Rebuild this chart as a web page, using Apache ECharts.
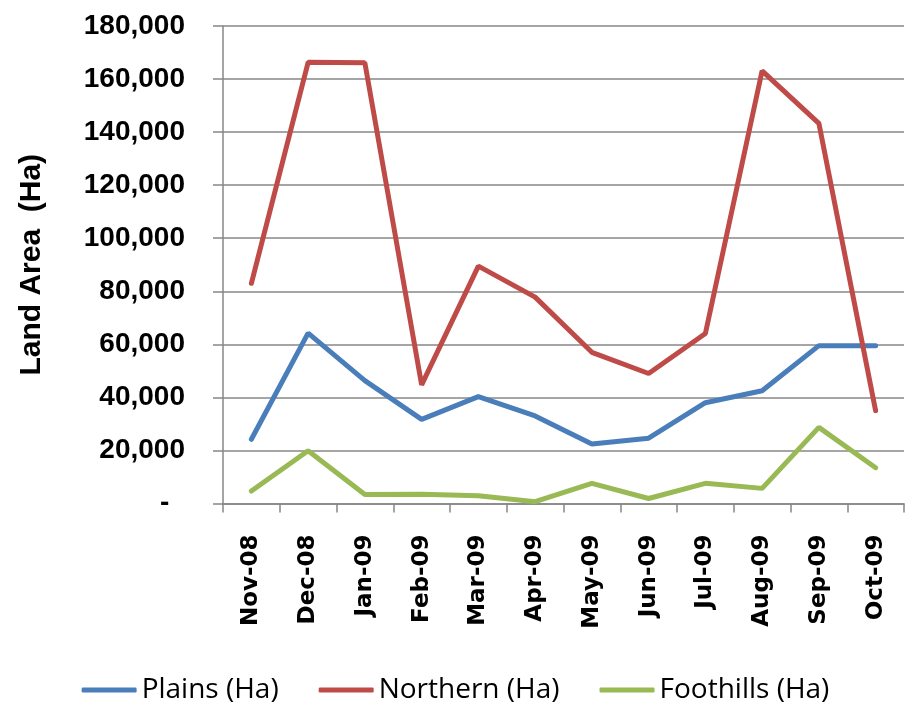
<!DOCTYPE html>
<html>
<head>
<meta charset="utf-8">
<script src="https://cdn.jsdelivr.net/npm/echarts@6/dist/echarts.min.js"></script>
<style>html,body{margin:0;padding:0;background:#fff}#c{width:911px;height:709px}</style>
</head>
<body>
<div id="c"></div>
<script>
var categories = ['Nov-08','Dec-08','Jan-09','Feb-09','Mar-09','Apr-09','May-09','Jun-09','Jul-09','Aug-09','Sep-09','Oct-09'];
var plains = [24200, 64200, 46300, 31700, 40300, 33000, 22400, 24600, 38000, 42500, 59500, 59500];
var northern = [83000, 166300, 166100, 44700, 89500, 77800, 57000, 49000, 64100, 163100, 143300, 35000];
var foothills = [4700, 19900, 3400, 3500, 2900, 700, 7600, 1900, 7600, 5700, 28700, 13500];
var seriesNames = ['Plains (Ha)', 'Northern (Ha)', 'Foothills (Ha)'];
var colors = ['#4A7EBB', '#BE4B48', '#98B954'];

function fmt(v) {
  if (v === 0) return '-  ';
  return String(v).replace(/\B(?=(\d{3})+(?!\d))/g, ',');
}

var chart = echarts.init(document.getElementById('c'));
var mk = function (name, data, color) {
  return {
    name: name, type: 'line', data: data, symbol: 'none',
    lineStyle: { width: 5, color: color, cap: 'round' },
    itemStyle: { color: color },
    animation: false
  };
};
chart.setOption({
  animation: false,
  color: colors,
  grid: { left: 223, right: 7, top: 26, bottom: 205.5, containLabel: false },
  legend: {
    bottom: 0,
    left: 'center',
    itemWidth: 55, itemHeight: 5, itemGap: 40,
    icon: 'roundRect',
    textStyle: { fontFamily: 'Open Sans', fontSize: 28, color: '#000' },
    data: seriesNames
  },
  xAxis: {
    type: 'category',
    data: categories,
    boundaryGap: true,
    axisLine: { lineStyle: { color: '#878787', width: 1.5 } },
    axisTick: { show: true, length: 9, lineStyle: { color: '#878787', width: 1.5 } },
    axisLabel: { rotate: 90, margin: 31, interval: 0, color: '#000', fontFamily: 'DejaVu Sans', fontWeight: 'bold', fontSize: 23 }
  },
  yAxis: {
    type: 'value',
    min: 0, max: 180000, interval: 20000,
    name: 'Land Area  (Ha)',
    nameLocation: 'middle',
    nameGap: 176,
    nameTextStyle: { fontFamily: 'Liberation Sans', fontWeight: 'bold', fontSize: 30, color: '#000' },
    axisLine: { show: true, lineStyle: { color: '#878787', width: 1.5 } },
    axisTick: { show: true, length: 10, lineStyle: { color: '#878787', width: 1.5 } },
    splitLine: { show: true, lineStyle: { color: '#878787', width: 1.5 } },
    axisLabel: { margin: 38, color: '#000', fontFamily: 'Liberation Sans', fontWeight: 'bold', fontSize: 28, formatter: fmt }
  },
  series: [
    mk(seriesNames[0], plains, colors[0]),
    mk(seriesNames[1], northern, colors[1]),
    mk(seriesNames[2], foothills, colors[2])
  ]
});
</script>
</body>
</html>
